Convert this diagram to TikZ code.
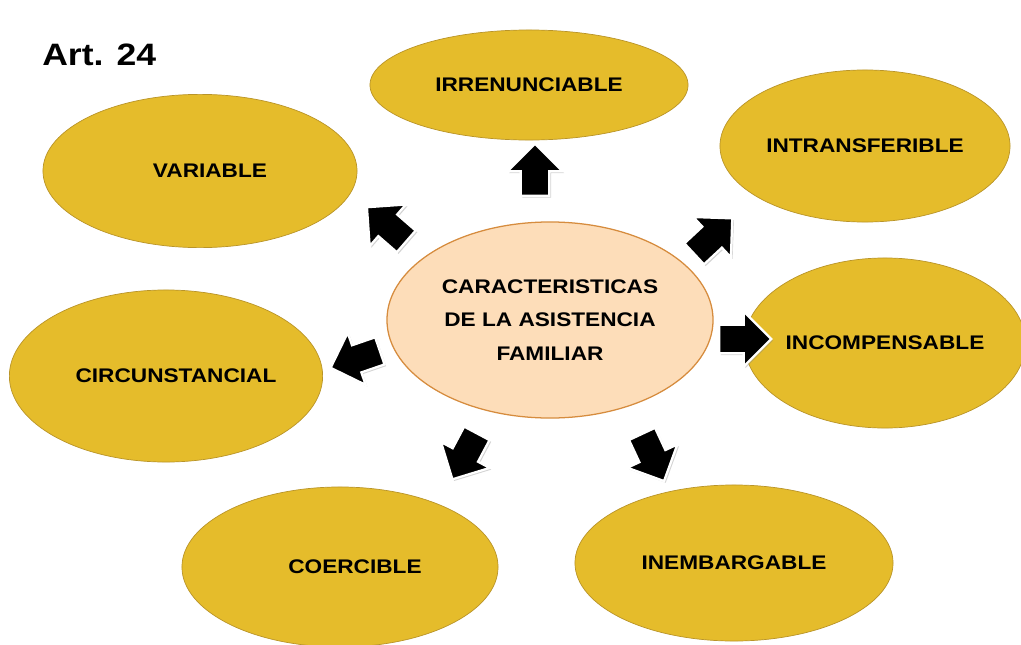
\documentclass[tikz,border=0pt]{standalone}
\usepackage{fontspec}
\setmainfont{Liberation Sans}[FakeStretch=1.15]
\usetikzlibrary{shapes.geometric, shapes.arrows, shadows}
\definecolor{gold}{RGB}{229,188,43}
\definecolor{goldline}{RGB}{185,148,40}
\definecolor{peach}{RGB}{253,221,185}
\definecolor{peachline}{RGB}{214,140,62}

\begin{document}
\begin{tikzpicture}[
    x=0.025cm, y=-0.025cm,
    every node/.style={inner sep=0pt, align=center},
    trait/.style={ellipse, draw=goldline, fill=gold, line width=0.5pt, font=\bfseries\fontsize{14}{17}\selectfont},
    core/.style={ellipse, draw=peachline, fill=peach, line width=0.9pt, font=\bfseries\fontsize{14}{24}\selectfont},
    blockarrow/.style={single arrow, fill=black, draw=white, line width=1.6pt, inner sep=0.33cm, minimum height=1.3cm, single arrow head extend=0.33cm, single arrow tip angle=90, drop shadow={opacity=0.35, shadow xshift=1.2pt, shadow yshift=-1.2pt}}
]
\useasboundingbox (0,0) rectangle (1021,645);
\clip (0,0) rectangle (1021,645);

\node[anchor=base west, font=\bfseries\fontsize{22}{26}\selectfont] (title) at (42,65) {Art. 24};

\node[core, minimum width=8.15cm, minimum height=4.9cm] (centre) at (550,320) {CARACTERISTICAS\\DE LA ASISTENCIA\\FAMILIAR};

\node[trait, minimum width=7.95cm, minimum height=2.75cm] (irren) at (529,85) {IRRENUNCIABLE};
\node[trait, minimum width=7.25cm, minimum height=3.8cm] (intrans) at (865,146) {INTRANSFERIBLE};
\node[trait, minimum width=7.85cm, minimum height=3.83cm] (variable) at (200,171) {\hspace*{0.5cm}VARIABLE};
\node[trait, minimum width=6.83cm, minimum height=4.25cm] (incomp) at (885,343) {INCOMPENSABLE};
\node[trait, minimum width=7.83cm, minimum height=4.3cm] (circ) at (166,376) {\hspace*{0.5cm}CIRCUNSTANCIAL};
\node[trait, minimum width=7.9cm, minimum height=4.0cm] (coerc) at (340,567) {\hspace*{0.75cm}COERCIBLE};
\node[trait, minimum width=7.95cm, minimum height=3.9cm] (inemb) at (734,563) {INEMBARGABLE};

% block arrows round the centre
\node[blockarrow, rotate=90] (toirren) at (535,177) {};
\node[blockarrow, rotate=139] (tovariable) at (392,229) {};
\node[blockarrow, rotate=43] (tointrans) at (708,241) {};
\node[blockarrow, rotate=0] (toincomp) at (738,339) {};
\node[blockarrow, rotate=199] (tocirc) at (362,357) {};
\node[blockarrow, rotate=242] (tocoerc) at (468,450) {};
\node[blockarrow, rotate=295] (toinemb) at (650,451) {};

\end{tikzpicture}
\end{document}
